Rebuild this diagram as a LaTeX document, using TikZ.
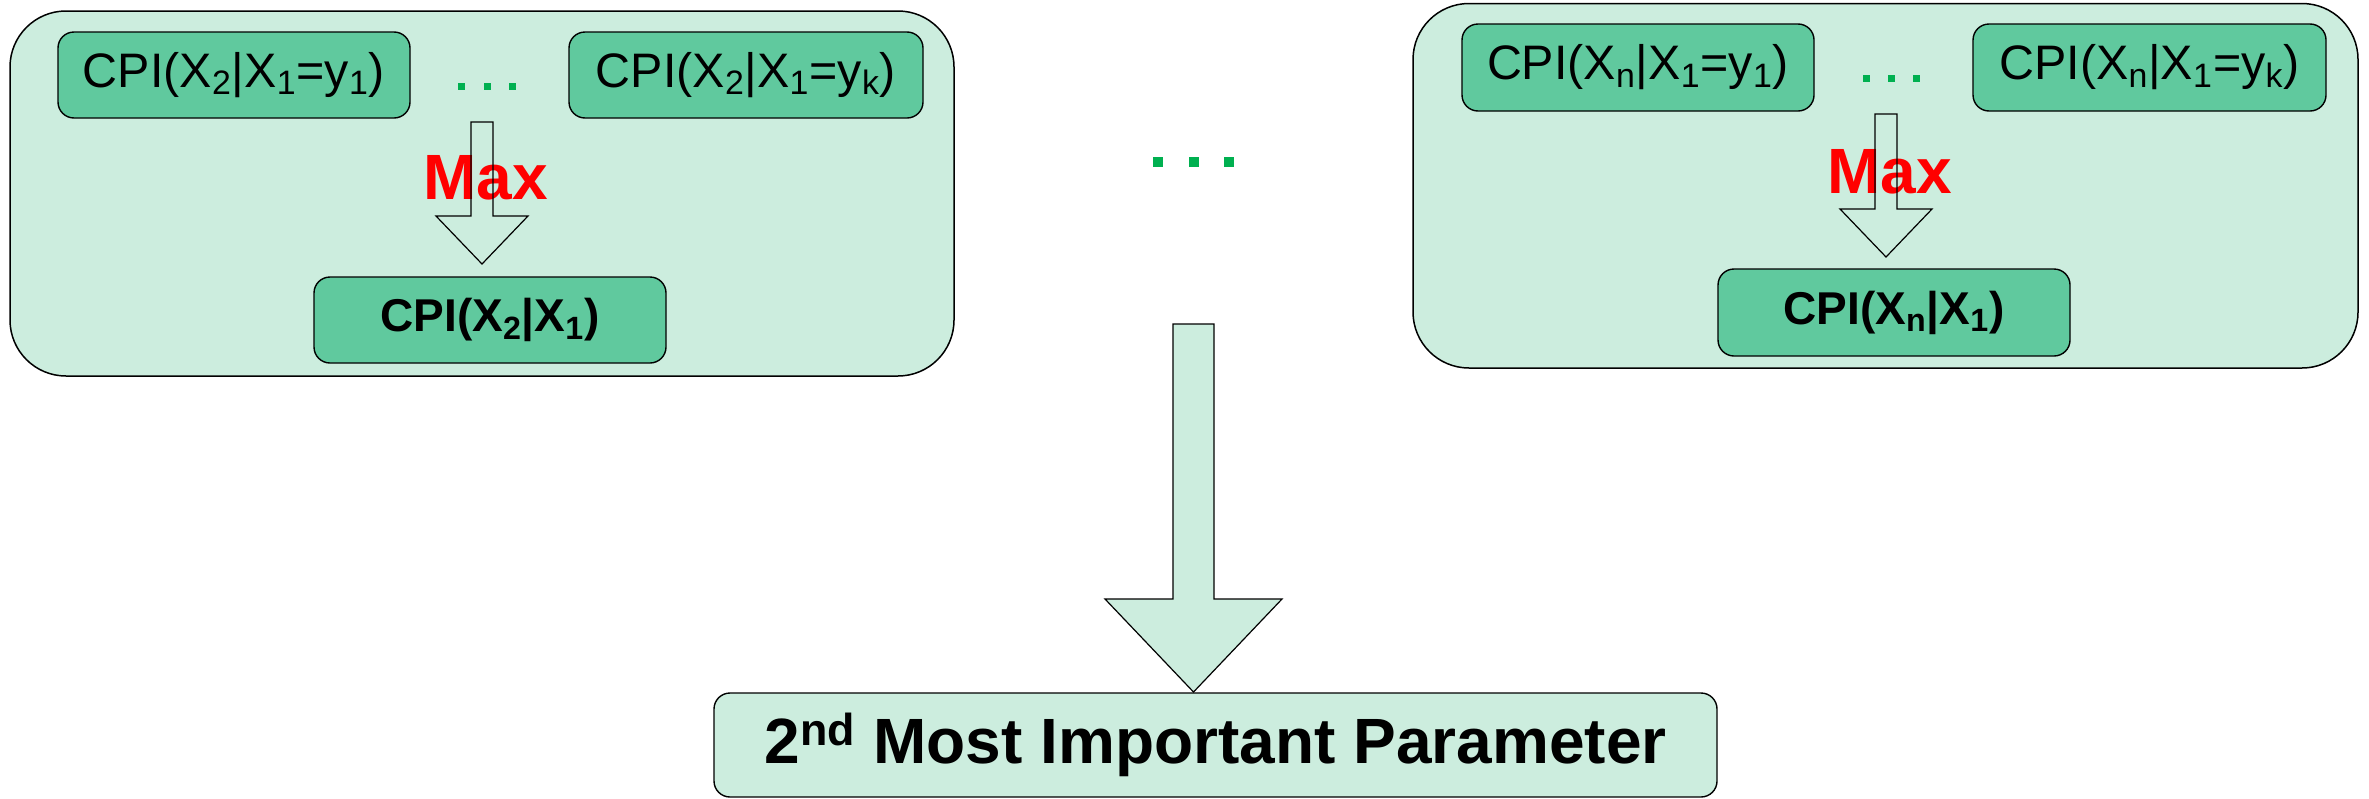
\documentclass[tikz,border=0pt]{standalone}
\usepackage{fontspec}
\setmainfont{Liberation Sans}
\definecolor{lightg}{RGB}{204,237,222}
\definecolor{midg}{RGB}{96,201,158}
\definecolor{dotg}{RGB}{0,176,80}
\begin{document}
\begin{tikzpicture}[x=0.5pt,y=-0.5pt,
  bigbox/.style={draw=black, line width=0.75pt, fill=lightg, rounded corners=28pt, inner sep=0pt, minimum width=472pt, minimum height=182.5pt},
  cpibox/.style={draw=black, line width=0.7pt, fill=midg, rounded corners=8pt, minimum width=176pt, minimum height=43pt, inner sep=0pt, font=\fontsize{24.2}{28}\selectfont},
  cpibold/.style={cpibox, font=\fontsize{23}{28}\selectfont\bfseries},
  resultbox/.style={draw=black, line width=0.7pt, fill=lightg, rounded corners=8pt, inner sep=0pt, minimum width=501.5pt, minimum height=52pt, font=\fontsize{32}{36}\selectfont\bfseries},
  maxlabel/.style={text=red, font=\fontsize{32}{36}\selectfont\bfseries, inner sep=0pt, anchor=base west},
  blockarrow/.style={draw=black, line width=0.6pt, line join=miter},
  dotsq/.style={fill=dotg, draw=none, minimum size=3.5pt, inner sep=0pt},
  bigdot/.style={dotsq, minimum size=5pt}
]
\useasboundingbox (0,0) rectangle (2369,798);

% group boxes
\node[bigbox] (L) at (482,193.5) {};
\node[bigbox, minimum width=472.5pt, minimum height=182.25pt] (R) at (1885.5,185.75) {};

% left group
\node[cpibox] (L1) at (234,75) {CPI(X\textsubscript{2}|X\textsubscript{1}=y\textsubscript{1})};
\node[cpibox, minimum width=177pt] (Lk) at (746,75) {CPI(X\textsubscript{2}|X\textsubscript{1}=y\textsubscript{k})};
\node[cpibold] (Lres) at (490,320) {CPI(X\textsubscript{2}|X\textsubscript{1})};
\node[maxlabel] (Lmax) at (423,199) {Max};
\draw[blockarrow] (471,122) -- (493,122) -- (493,216) -- (528,216) -- (482,264) -- (436,216) -- (471,216) -- cycle;
\foreach \i/\x in {1/461.5,2/487,3/512.5} \node[dotsq] (ld\i) at (\x,86.5) {};

% right group
\node[cpibox, minimum height=43.5pt] (R1) at (1638,67.5) {CPI(X\textsubscript{n}|X\textsubscript{1}=y\textsubscript{1})};
\node[cpibox, minimum height=43.5pt, minimum width=176.5pt] (Rk) at (2149.5,67.5) {CPI(X\textsubscript{n}|X\textsubscript{1}=y\textsubscript{k})};
\node[cpibold, minimum height=43.5pt] (Rres) at (1894,312.5) {CPI(X\textsubscript{n}|X\textsubscript{1})};
\node[maxlabel] (Rmax) at (1827,193) {Max};
\draw[blockarrow] (1875,114) -- (1897,114) -- (1897,209) -- (1932,209) -- (1886,257) -- (1840,209) -- (1875,209) -- cycle;
\foreach \i/\x in {1/1866.5,2/1891.5,3/1916} \node[dotsq] (rd\i) at (\x,78.5) {};

% middle dots
\foreach \i/\x in {1/1158,2/1194,3/1229} \node[bigdot] (md\i) at (\x,162) {};

% big arrow and result
\draw[blockarrow, fill=lightg] (1173,324) -- (1214,324) -- (1214,599) -- (1282,599) -- (1193.5,692) -- (1105,599) -- (1173,599) -- cycle;
\node[resultbox] (res) at (1215.5,745) {2\textsuperscript{nd} Most Important Parameter};
\end{tikzpicture}
\end{document}
